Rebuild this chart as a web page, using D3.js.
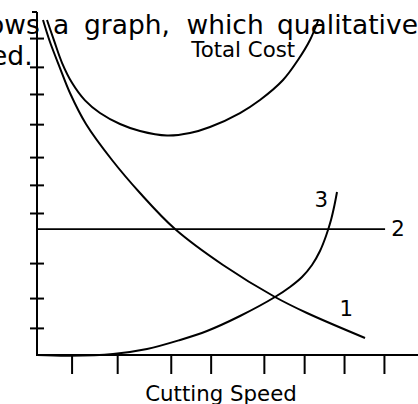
<!DOCTYPE html>
<html>
<head>
<meta charset="utf-8">
<script src="https://cdn.jsdelivr.net/npm/d3@7"></script>
<style>
html,body{margin:0;padding:0;background:#fff;overflow:hidden;}
svg{display:block;}
text{font-family:"DejaVu Sans",Verdana,sans-serif;fill:#000;}
</style>
</head>
<body>
<svg id="chart" width="418" height="404"></svg>
<script>
// ---- data (speed 0-100, cost 0-100, qualitative) ----
const curve1Speed = [1.58, 3.42, 6.05, 8.68, 12.89, 19.74, 27.11, 36.32, 48.95, 62.63, 71.05, 86.32];
const curve1Cost  = [97.67, 91.25, 83.67, 76.38, 67.35, 56.85, 47.23, 36.73, 26.24, 16.91, 12.24, 4.96];

const totalSpeed = [2.63, 4.47, 6.58, 9.21, 12.63, 16.58, 21.84, 27.11, 34.21, 40.26, 45.53, 53.42, 58.68, 64.74, 68.68, 71.84, 73.95];
const totalCost  = [97.67, 91.72, 85.19, 79.36, 74.23, 70.55, 67.35, 65.31, 63.99, 64.72, 66.47, 70.55, 74.34, 80.17, 86.01, 91.84, 97.38];

const curve3Speed = [0, 8.68, 20.0, 28.95, 37.63, 44.74, 53.42, 62.63, 66.58, 69.74, 72.37, 74.47, 76.05, 77.37, 78.29, 78.95];
const curve3Cost  = [0, -0.2, 0.3, 1.75, 4.37, 7.0, 11.37, 16.91, 19.83, 22.74, 26.24, 30.32, 34.69, 39.36, 43.73, 47.52];

const line2Speed = [0, 91.6];
const line2Cost  = [36.7, 36.7];

const xTickValues = [9.1, 21.1, 35.2, 45.7, 59.7, 70.3, 80.8, 91.3];
const yTickValues = [92.4, 84.0, 76.1, 67.3, 57.7, 49.6, 41.4, 26.8, 16.6, 7.9];

const curveLabels = ["1", "2", "3", "Total Cost"];
const xTitle = "Cutting Speed";
const yTitle = "Cost per piece";
const topWords = ["ows", "a", "graph,", "which", "qualitative"];
const secondLine = "ed.";

// ---- drawing ----
const svg = d3.select("#chart");
const x = d3.scaleLinear().domain([0, 100]).range([37, 417]);
const y = d3.scaleLinear().domain([0, 100]).range([355, 12]);

// surrounding text fragment
const topX = [-12, 53, 84, 186.5, 277];
svg.append("g").selectAll("text").data(topWords).join("text")
  .attr("x", (d, i) => topX[i]).attr("y", 34)
  .style("font-size", "26.5px").text(d => d);
svg.append("text").attr("x", -9).attr("y", 65).style("font-size", "26.5px").text(secondLine);

// axes lines
svg.append("line").attr("x1", x(0)).attr("x2", x(0)).attr("y1", y(100)).attr("y2", y(0))
  .attr("stroke", "#000").attr("stroke-width", 2);
svg.append("line").attr("x1", x(0) - 1).attr("x2", 418).attr("y1", y(0)).attr("y2", y(0))
  .attr("stroke", "#000").attr("stroke-width", 2);
// top cap
svg.append("line").attr("x1", x(0) - 5).attr("x2", x(0)).attr("y1", y(100)).attr("y2", y(100))
  .attr("stroke", "#000").attr("stroke-width", 2);

// y ticks crossing the axis
const yAxisL = d3.axisLeft(y).tickValues(yTickValues).tickSize(7).tickSizeOuter(0).tickFormat("");
const gyl = svg.append("g").attr("transform", `translate(${x(0)},0)`).call(yAxisL);
const yAxisR = d3.axisRight(y).tickValues(yTickValues).tickSize(7).tickSizeOuter(0).tickFormat("");
const gyr = svg.append("g").attr("transform", `translate(${x(0)},0)`).call(yAxisR);
[gyl, gyr].forEach(g => {
  g.select(".domain").remove();
  g.selectAll(".tick line").attr("stroke", "#000").attr("stroke-width", 2);
});

// x ticks below the axis
const xAxis = d3.axisBottom(x).tickValues(xTickValues).tickSize(19).tickSizeOuter(0).tickFormat("");
const gx = svg.append("g").attr("transform", `translate(0,${y(0)})`).call(xAxis);
gx.select(".domain").remove();
gx.selectAll(".tick line").attr("stroke", "#000").attr("stroke-width", 2);

// curves
const line = d3.line().x(d => x(d[0])).y(d => y(d[1])).curve(d3.curveCatmullRom.alpha(0.5));
const zip = (a, b) => a.map((v, i) => [v, b[i]]);
[[curve1Speed, curve1Cost], [totalSpeed, totalCost], [curve3Speed, curve3Cost]].forEach(([sx, sy]) => {
  svg.append("path").attr("d", line(zip(sx, sy)))
    .attr("fill", "none").attr("stroke", "#000").attr("stroke-width", 2);
});
svg.append("path").attr("d", d3.line().x(d => x(d[0])).y(d => y(d[1]))(zip(line2Speed, line2Cost)))
  .attr("fill", "none").attr("stroke", "#000").attr("stroke-width", 1.6);

// curve labels
const fs = "21.3px";
svg.append("text").attr("x", x(79.6)).attr("y", y(11.4)).style("font-size", fs).text(curveLabels[0]);
svg.append("text").attr("x", x(93.2)).attr("y", y(34.7)).style("font-size", fs).text(curveLabels[1]);
svg.append("text").attr("x", x(73.0)).attr("y", y(43.1)).style("font-size", fs).text(curveLabels[2]);
svg.append("text").attr("x", x(40.6)).attr("y", y(87.0)).style("font-size", fs).text(curveLabels[3]);

// axis titles
svg.append("text").attr("x", 221).attr("y", 401).attr("text-anchor", "middle")
  .style("font-size", fs).text(xTitle);
svg.append("defs").append("clipPath").attr("id", "yclip")
  .append("rect").attr("x", 0).attr("y", 100).attr("width", 26).attr("height", 260);
svg.append("text").attr("clip-path", "url(#yclip)")
  .attr("transform", `translate(25.5,${y(35.9)}) rotate(-90)`).attr("text-anchor", "middle")
  .style("font-size", fs).text(yTitle);
</script>
</body>
</html>
